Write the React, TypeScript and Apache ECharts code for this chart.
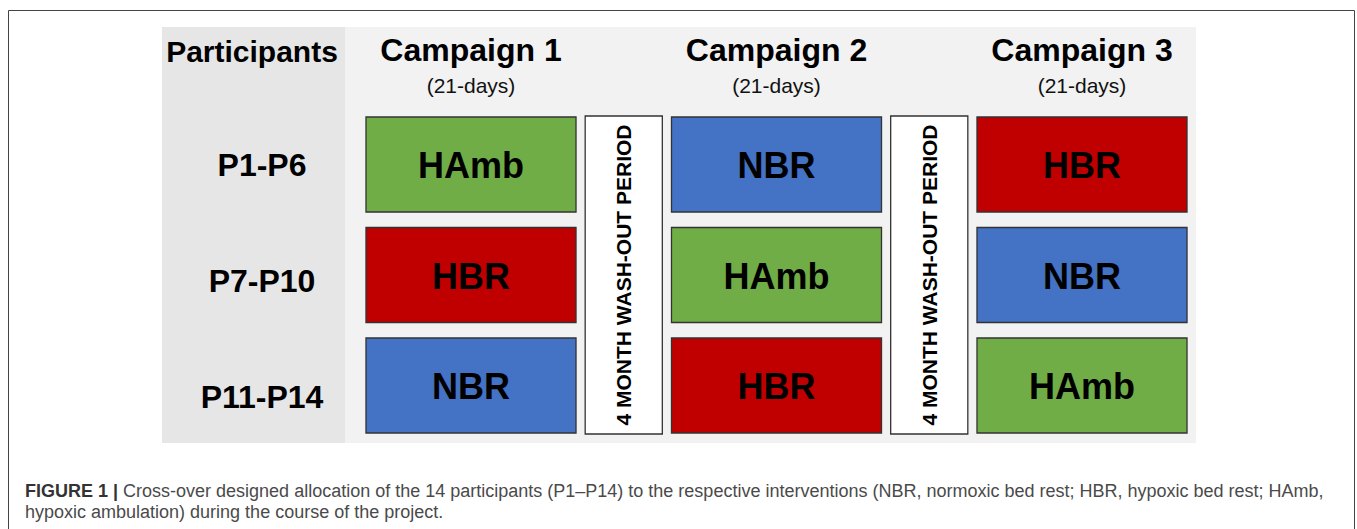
import React, { useEffect, useRef } from "react";
import * as echarts from "echarts";

// ---- data ----
const columns = ["Campaign 1", "Wash-out 1", "Campaign 2", "Wash-out 2", "Campaign 3"];
const columnSubtitle = "(21-days)";
const groups = ["P1-P6", "P7-P10", "P11-P14"];
const campaign1 = ["HAmb", "HBR", "NBR"];
const campaign2 = ["NBR", "HAmb", "HBR"];
const campaign3 = ["HBR", "NBR", "HAmb"];
const washoutLabel = "4 MONTH WASH-OUT PERIOD";
const washoutColumns = ["Wash-out 1", "Wash-out 2"];
const interventionColors: Record<string, string> = {
  HAmb: "#70ad47",
  HBR: "#c00000",
  NBR: "#4472c4",
};
const captionBold = "FIGURE 1 |";
const captionText =
  " Cross-over designed allocation of the 14 participants (P1\u2013P14) to the respective interventions (NBR, normoxic bed rest; HBR, hypoxic bed rest; HAmb,\nhypoxic ambulation) during the course of the project.";

const FONT = "'Liberation Sans', Arial, Helvetica, sans-serif";

export default function App() {
  const ref = useRef<HTMLDivElement>(null);
  useEffect(() => {
    if (!ref.current) return;
    const chart = echarts.init(ref.current, undefined, { renderer: "svg" });

    const cellData: any[] = [];
    [campaign1, campaign2, campaign3].forEach((arr, ci) => {
      const col = columns[ci * 2];
      arr.forEach((v, ri) => cellData.push([col, groups[ri], v]));
    });
    const washData = washoutColumns.map((c) => [c, groups[1], washoutLabel]);

    const rowLabelStyle = (shift: number) => ({
      fontSize: 32,
      fontWeight: "bold",
      color: "#000",
      fontFamily: FONT,
      padding: [shift, 0, 0, 0],
    });

    chart.setOption({
      animation: false,
      textStyle: { fontFamily: FONT },
      grid: { left: 394.625, width: 763.75, top: 109.25, height: 331.5 },
      xAxis: {
        type: "category",
        data: columns,
        position: "top",
        axisLine: { show: false },
        axisTick: { show: false },
        splitLine: { show: false },
        axisLabel: {
          interval: 0,
          margin: 9,
          formatter: (v: string) =>
            v.startsWith("Campaign") ? `{t|${v}}\n{s|${columnSubtitle}}` : "",
          rich: {
            t: { fontSize: 32, fontWeight: "bold", color: "#000", lineHeight: 40, fontFamily: FONT },
            s: { fontSize: 21, color: "#111", lineHeight: 30, fontFamily: FONT },
          },
        },
      },
      yAxis: {
        type: "category",
        data: groups,
        inverse: true,
        axisLine: { show: false },
        axisTick: { show: false },
        splitLine: { show: false },
        axisLabel: {
          margin: 132.6,
          align: "center",
          formatter: (v: string, i: number) => `{r${i}|${v}}`,
          rich: {
            r0: rowLabelStyle(0),
            r1: rowLabelStyle(12),
            r2: rowLabelStyle(22),
          },
        },
      },
      graphic: [
        {
          type: "rect",
          z: -10,
          shape: { x: 8.5, y: 10.5, width: 1346, height: 540 },
          style: { fill: "#fff", stroke: "#444", lineWidth: 1 },
        },
        {
          type: "rect",
          z: -9,
          shape: { x: 162, y: 27, width: 183, height: 416 },
          style: { fill: "#e6e6e6" },
        },
        {
          type: "rect",
          z: -9,
          shape: { x: 345, y: 27, width: 851, height: 416 },
          style: { fill: "#f2f2f2" },
        },
        {
          type: "text",
          x: 252,
          y: 51,
          style: {
            text: "Participants",
            fontSize: 30,
            fontWeight: "bold",
            fill: "#000",
            align: "center",
            verticalAlign: "middle",
            fontFamily: FONT,
          },
        },
        {
          type: "text",
          x: 25,
          y: 480,
          style: {
            text: `{b|${captionBold}}${captionText}`,
            fontSize: 18,
            lineHeight: 21,
            fill: "#4a4a4a",
            fontFamily: FONT,
            rich: {
              b: { fontSize: 18, fontWeight: "bold", fill: "#333", lineHeight: 21, fontFamily: FONT },
            },
          },
        },
      ],
      series: [
        {
          type: "custom",
          data: cellData,
          renderItem: (params: any, api: any) => {
            const c = api.coord([api.value(0), api.value(1)]);
            const s = api.size([1, 1]);
            const w = s[0] * 1.375;
            const h = s[1] * 0.86;
            const label = cellData[params.dataIndex][2];
            return {
              type: "group",
              children: [
                {
                  type: "rect",
                  shape: { x: c[0] - w / 2, y: c[1] - h / 2, width: w, height: h },
                  style: { fill: interventionColors[label], stroke: "#333", lineWidth: 1.3 },
                },
                {
                  type: "text",
                  x: c[0],
                  y: c[1] + 1,
                  style: {
                    text: label,
                    fontSize: 36,
                    fontWeight: "bold",
                    fill: "#000",
                    align: "center",
                    verticalAlign: "middle",
                    fontFamily: FONT,
                  },
                },
              ],
            };
          },
        },
        {
          type: "custom",
          data: washData,
          renderItem: (params: any, api: any) => {
            const c = api.coord([api.value(0), api.value(1)]);
            const s = api.size([1, 1]);
            const w = s[0] * 0.505;
            const h = s[1] * 2.878;
            return {
              type: "group",
              children: [
                {
                  type: "rect",
                  shape: { x: c[0] - w / 2, y: c[1] - h / 2, width: w, height: h },
                  style: { fill: "#fff", stroke: "#333", lineWidth: 1.3 },
                },
                {
                  type: "text",
                  x: c[0],
                  y: c[1],
                  rotation: Math.PI / 2,
                  style: {
                    text: washData[params.dataIndex][2],
                    fontSize: 21,
                    fontWeight: "bold",
                    fill: "#000",
                    align: "center",
                    verticalAlign: "middle",
                    fontFamily: FONT,
                  },
                },
              ],
            };
          },
        },
      ],
    });
    return () => chart.dispose();
  }, []);
  return (
    <div
      ref={ref}
      style={{ position: "fixed", left: 0, top: 0, width: 1357, height: 529, background: "#fff" }}
    />
  );
}
